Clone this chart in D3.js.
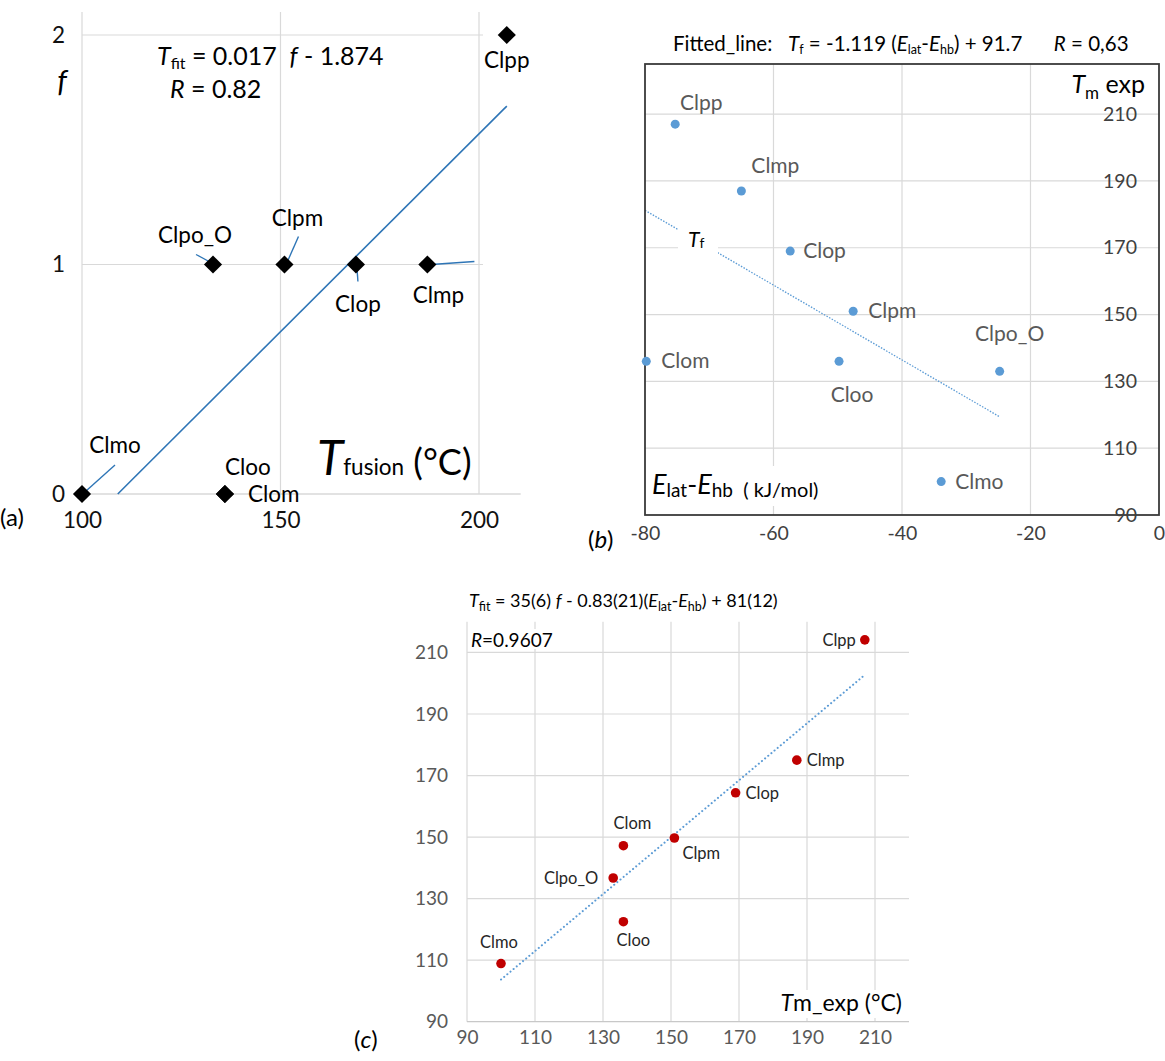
<!DOCTYPE html>
<html>
<head>
<meta charset="utf-8">
<script src="https://cdn.jsdelivr.net/npm/d3@7"></script>
<style>
  html, body { margin: 0; padding: 0; background: #fff; }
  svg text { white-space: pre; }
</style>
</head>
<body>
<svg id="chart" width="1165" height="1061"></svg>
<script>
// ---------------- DATA ----------------
const compounds   = ["Clmo", "Clom", "Cloo", "Clpo_O", "Clpm", "Clop", "Clmp", "Clpp"];
const tFusion     = [100, 136, 136, 133, 151, 169, 187, 207];          // Tm exp (°C)
const fValues     = [0, 0, 0, 1, 1, 1, 1, 2];                           // f
const eLatHb      = [-33.9, -79.8, -49.8, -24.8, -47.6, -57.4, -65.0, -75.3]; // Elat-Ehb (kJ/mol)
const tFit        = [108.9, 147.2, 122.5, 136.7, 149.7, 164.4, 175.0, 214.1]; // T_fit (°C)

// fitted lines (end points)
const fitA = [[109, 0], [207, 1.69]];
const fitB = [[-80, 181.2], [-24.8, 119.4]];
const fitC = [[100, 103.7], [207, 202.7]];

// tick values
const ticksAx = [100, 150, 200];
const ticksAy = [0, 1, 2];
const ticksBx = [-80, -60, -40, -20, 0];
const ticksBy = [90, 110, 130, 150, 170, 190, 210];
const ticksCx = [90, 110, 130, 150, 170, 190, 210];
const ticksCy = [90, 110, 130, 150, 170, 190, 210];

// ---------------- LAYOUT ----------------
const FONT = "Lato, 'Open Sans', sans-serif";
const GRID = "#d9d9d9";
const svg = d3.select("#chart");
svg.append("rect").attr("width", 1165).attr("height", 1061).attr("fill", "#fff");

// label placement (pixel offsets from the point): [dx, dy, anchor]
const labA = {
  Clmo: [33, -41, "middle"], Clom: [23, 8, "start"], Cloo: [23, -19, "middle"],
  Clpo_O: [-18, -22, "middle"], Clpm: [13, -39, "middle"], Clop: [2, 47, "middle"],
  Clmp: [11, 38, "middle"], Clpp: [0, 33, "middle"]
};
const leadA = {
  Clmo: [[4, -3], [33, -29]], Clpo_O: [[-4, -3], [-17, -10]], Clpm: [[3, -3], [14, -28]],
  Clop: [[1, 3], [2, 17]], Clmp: [[4, 0], [47, -3]]
};
const labB = {
  Clpp: [26, -14, "middle"], Clmp: [34, -18, "middle"], Clop: [13, 7, "start"],
  Clpm: [15, 7, "start"], Clom: [15, 7, "start"], Cloo: [13, 41, "middle"],
  Clpo_O: [10, -30, "middle"], Clmo: [14, 7, "start"]
};
const labC = {
  Clpp: [-9, 6, "end"], Clmp: [10, 6, "start"], Clop: [10, 6, "start"],
  Clom: [9, -17, "middle"], Clpm: [8, 21, "start"], Clpo_O: [-15, 6, "end"],
  Cloo: [10, 24, "middle"], Clmo: [-2, -16, "middle"]
};

function rich(g, x, y, parts, o) {
  const t = g.append("text").attr("x", x).attr("y", y)
    .attr("font-family", FONT).attr("font-size", o.size)
    .attr("fill", o.color || "#000").attr("text-anchor", o.anchor || "start");
  let off = 0;
  parts.forEach(p => {
    const s = t.append("tspan").text(p.t);
    const target = p.shift || 0;
    if (target !== off) s.attr("dy", target - off);
    off = target;
    if (p.size) s.attr("font-size", p.size);
    if (p.italic) s.attr("font-style", "italic");
  });
  return t;
}

// ================= PANEL (a) =================
{
  const g = svg.append("g");
  const x = d3.scaleLinear().domain([100, 200]).range([82, 479]);
  const y = d3.scaleLinear().domain([0, 2]).range([494, 35]);

  g.selectAll(".vg").data(ticksAx).join("line")
    .attr("x1", d => x(d)).attr("x2", d => x(d))
    .attr("y1", y(0)).attr("y2", y(2.1))
    .attr("stroke", GRID).attr("stroke-width", 1.2);
  g.selectAll(".hg").data(ticksAy.filter(d => d > 0)).join("line")
    .attr("x1", x(100)).attr("x2", x(201))
    .attr("y1", d => y(d)).attr("y2", d => y(d))
    .attr("stroke", GRID).attr("stroke-width", 1.2);
  g.append("line").attr("x1", x(100)).attr("x2", x(210.5))
    .attr("y1", y(0)).attr("y2", y(0)).attr("stroke", GRID).attr("stroke-width", 1.4);

  const ax = g.append("g").attr("transform", `translate(0,${y(0)})`)
    .call(d3.axisBottom(x).tickValues(ticksAx).tickSize(0).tickPadding(18).tickFormat(d3.format("d")));
  const ay = g.append("g").attr("transform", `translate(${x(100)},0)`)
    .call(d3.axisLeft(y).tickValues(ticksAy).tickSize(0).tickPadding(17).tickFormat(d3.format("d")));
  [ax, ay].forEach(a => {
    a.select(".domain").remove();
    a.selectAll("text").attr("font-family", FONT).attr("font-size", 22.5).attr("fill", "#111");
  });

  g.append("line")
    .attr("x1", x(fitA[0][0])).attr("y1", y(fitA[0][1]))
    .attr("x2", x(fitA[1][0])).attr("y2", y(fitA[1][1]))
    .attr("stroke", "#2e75b6").attr("stroke-width", 1.6);

  compounds.forEach((c, i) => {
    if (!leadA[c]) return;
    const px = x(tFusion[i]), py = y(fValues[i]);
    const [[a1, b1], [a2, b2]] = leadA[c];
    g.append("line").attr("x1", px + a1).attr("y1", py + b1)
      .attr("x2", px + a2).attr("y2", py + b2)
      .attr("stroke", "#2e75b6").attr("stroke-width", 1.4);
  });

  const diamond = d3.symbol().type(d3.symbolDiamond2).size(210);
  g.selectAll(".pt").data(compounds).join("path")
    .attr("transform", (d, i) => `translate(${x(tFusion[i])},${y(fValues[i])})`)
    .attr("d", diamond).attr("fill", "#000");

  compounds.forEach((c, i) => {
    const [dx, dy, anc] = labA[c];
    g.append("text").attr("x", x(tFusion[i]) + dx).attr("y", y(fValues[i]) + dy)
      .attr("text-anchor", anc).attr("font-family", FONT).attr("font-size", 22.5)
      .attr("fill", "#000").text(c);
  });

  rich(g, 157, 65, [
    { t: "T", italic: true }, { t: "fit", size: 16, shift: 4 },
    { t: " = 0.017  ", shift: 0 }, { t: "f", italic: true }, { t: " - 1.874" }
  ], { size: 25 });
  rich(g, 170, 98, [{ t: "R", italic: true }, { t: " = 0.82" }], { size: 25 });

  rich(g, 62, 92, [{ t: "f", italic: true }], { size: 30, anchor: "middle" });
  rich(g, 317, 475, [
    { t: "T", italic: true, size: 48 }, { t: "fusion", size: 22.5 }, { t: " (°C)", size: 36 }
  ], { size: 36 });

  g.append("text").attr("x", 0).attr("y", 526).attr("font-family", FONT)
    .attr("font-size", 24).attr("fill", "#000").text("(a)");
}

// ================= PANEL (b) =================
{
  const g = svg.append("g");
  const x = d3.scaleLinear().domain([-80, 0]).range([645, 1159]);
  const y = d3.scaleLinear().domain([90, 225]).range([515, 64]);

  g.selectAll(".vg").data(ticksBx.filter(d => d > -80 && d < 0)).join("line")
    .attr("x1", d => x(d)).attr("x2", d => x(d)).attr("y1", y(90)).attr("y2", y(225))
    .attr("stroke", GRID).attr("stroke-width", 1.2);
  g.selectAll(".hg").data(ticksBy.filter(d => d > 90)).join("line")
    .attr("x1", x(-80)).attr("x2", x(0)).attr("y1", d => y(d)).attr("y2", d => y(d))
    .attr("stroke", GRID).attr("stroke-width", 1.2);

  g.append("line")
    .attr("x1", x(fitB[0][0])).attr("y1", y(fitB[0][1]))
    .attr("x2", x(fitB[1][0])).attr("y2", y(fitB[1][1]))
    .attr("stroke", "#5b9bd5").attr("stroke-width", 1.3).attr("stroke-dasharray", "1.5,1.5");

  g.append("rect").attr("x", 678).attr("y", 223).attr("width", 40).attr("height", 32).attr("fill", "#fff");
  rich(g, 688, 247, [{ t: "T", italic: true }, { t: "f", size: 14, shift: 1 }], { size: 21, color: "#000" });

  g.append("rect").attr("x", x(-80)).attr("y", y(225))
    .attr("width", x(0) - x(-80)).attr("height", y(90) - y(225))
    .attr("fill", "none").attr("stroke", "#3a3a3a").attr("stroke-width", 1.8);

  const ax = g.append("g").attr("transform", `translate(0,${y(90)})`)
    .call(d3.axisBottom(x).tickValues(ticksBx).tickSize(0).tickPadding(11).tickFormat(d3.format("d")));
  const ay = g.append("g").attr("transform", `translate(${x(0)},0)`)
    .call(d3.axisLeft(y).tickValues(ticksBy).tickSize(0).tickPadding(22).tickFormat(d3.format("d")));
  [ax, ay].forEach(a => {
    a.select(".domain").remove();
    a.selectAll("text").attr("font-family", FONT).attr("font-size", 19.5).attr("fill", "#404040");
  });
  ax.selectAll("text").text(d => d === 0 ? "0" : "-" + Math.abs(d));

  g.selectAll(".pt").data(compounds).join("circle")
    .attr("cx", (d, i) => x(eLatHb[i])).attr("cy", (d, i) => y(tFusion[i]))
    .attr("r", 4.5).attr("fill", "#5b9bd5");

  compounds.forEach((c, i) => {
    const [dx, dy, anc] = labB[c];
    g.append("text").attr("x", x(eLatHb[i]) + dx).attr("y", y(tFusion[i]) + dy)
      .attr("text-anchor", anc).attr("font-family", FONT).attr("font-size", 21)
      .attr("fill", "#595959").text(c);
  });

  rich(g, 673, 51, [
    { t: "Fitted_line:   " }, { t: "T", italic: true }, { t: "f", size: 12.5, shift: 3 },
    { t: " = -1.119 (", shift: 0 }, { t: "E", italic: true }, { t: "lat", size: 12.5, shift: 3 },
    { t: "-", shift: 0 }, { t: "E", italic: true }, { t: "hb", size: 12.5, shift: 3 },
    { t: ") + 91.7      ", shift: 0 }, { t: "R", italic: true }, { t: " = 0,63" }
  ], { size: 20.5, color: "#000" });

  rich(g, 1145, 93, [
    { t: "T", italic: true }, { t: "m", size: 17, shift: 6 }, { t: " exp", shift: 0 }
  ], { size: 25, color: "#000", anchor: "end" });

  g.append("rect").attr("x", 650).attr("y", 466).attr("width", 180).attr("height", 40).attr("fill", "#fff");
  rich(g, 652, 494, [
    { t: "E", italic: true }, { t: "lat", size: 19, shift: 3 }, { t: "-", shift: 0 },
    { t: "E", italic: true }, { t: "hb", size: 19, shift: 3 }, { t: "  ( kJ/mol)", size: 20, shift: 3 }
  ], { size: 27, color: "#000" });

  rich(g, 588, 548, [{ t: "(" }, { t: "b", italic: true }, { t: ")" }], { size: 24, color: "#000" });
}

// ================= PANEL (c) =================
{
  const g = svg.append("g");
  const x = d3.scaleLinear().domain([90, 220]).range([467, 909]);
  const y = d3.scaleLinear().domain([90, 220]).range([1021.7, 621.7]);

  g.selectAll(".vg").data(ticksCx).join("line")
    .attr("x1", d => x(d)).attr("x2", d => x(d)).attr("y1", y(90)).attr("y2", y(220))
    .attr("stroke", GRID).attr("stroke-width", 1.2);
  g.selectAll(".hg").data(ticksCy).join("line")
    .attr("x1", x(90)).attr("x2", x(220)).attr("y1", d => y(d)).attr("y2", d => y(d))
    .attr("stroke", d => d === 90 ? "#c8c8c8" : GRID).attr("stroke-width", 1.2);

  const ax = g.append("g").attr("transform", `translate(0,${y(90)})`)
    .call(d3.axisBottom(x).tickValues(ticksCx).tickSize(0).tickPadding(9).tickFormat(d3.format("d")));
  const ay = g.append("g").attr("transform", `translate(${x(90)},0)`)
    .call(d3.axisLeft(y).tickValues(ticksCy).tickSize(0).tickPadding(19).tickFormat(d3.format("d")));
  [ax, ay].forEach(a => {
    a.select(".domain").remove();
    a.selectAll("text").attr("font-family", FONT).attr("font-size", 19).attr("fill", "#595959");
  });

  g.append("line")
    .attr("x1", x(fitC[0][0])).attr("y1", y(fitC[0][1]))
    .attr("x2", x(fitC[1][0])).attr("y2", y(fitC[1][1]))
    .attr("stroke", "#5b9bd5").attr("stroke-width", 2).attr("stroke-linecap", "round")
    .attr("stroke-dasharray", "0.1,4");

  g.selectAll(".pt").data(compounds).join("circle")
    .attr("cx", (d, i) => x(tFusion[i])).attr("cy", (d, i) => y(tFit[i]))
    .attr("r", 4.8).attr("fill", "#c00000");

  compounds.forEach((c, i) => {
    const [dx, dy, anc] = labC[c];
    g.append("text").attr("x", x(tFusion[i]) + dx).attr("y", y(tFit[i]) + dy)
      .attr("text-anchor", anc).attr("font-family", FONT).attr("font-size", 16.5)
      .attr("fill", "#262626").text(c);
  });

  g.append("rect").attr("x", 470).attr("y", 629).attr("width", 90).attr("height", 20).attr("fill", "#fff");
  rich(g, 471, 647, [{ t: "R", italic: true }, { t: "=0.9607" }], { size: 19, color: "#000" });

  rich(g, 469, 607, [
    { t: "T", italic: true }, { t: "fit", size: 12.5, shift: 4 }, { t: " = 35(6) ", shift: 0 },
    { t: "f", italic: true }, { t: " - 0.83(21)(" }, { t: "E", italic: true },
    { t: "lat", size: 12.5, shift: 4 }, { t: "-", shift: 0 }, { t: "E", italic: true },
    { t: "hb", size: 12.5, shift: 4 }, { t: ") + 81(12)", shift: 0 }
  ], { size: 18, color: "#000" });

  g.append("rect").attr("x", 776).attr("y", 990).attr("width", 128).attr("height", 28).attr("fill", "#fff");
  rich(g, 902, 1011, [{ t: "T", italic: true }, { t: "m_exp (°C)" }], { size: 23, color: "#000", anchor: "end" });

  rich(g, 354, 1048, [{ t: "(" }, { t: "c", italic: true }, { t: ")" }], { size: 24, color: "#000" });
}
</script>
</body>
</html>
